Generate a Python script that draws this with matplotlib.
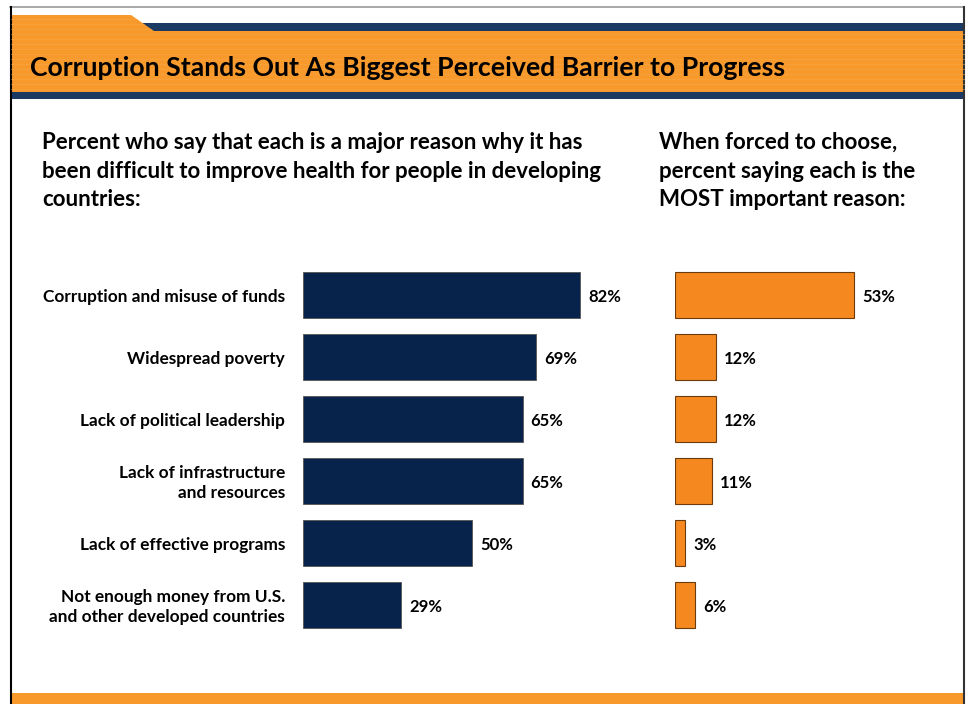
import matplotlib
matplotlib.use("Agg")
import matplotlib.pyplot as plt
from matplotlib.patches import Polygon, Rectangle

# Survey results (percent)
reasons = [
    "Corruption and misuse of funds",
    "Widespread poverty",
    "Lack of political leadership",
    "Lack of infrastructure\nand resources",
    "Lack of effective programs",
    "Not enough money from U.S.\nand other developed countries",
]
major_reason = [82, 69, 65, 65, 50, 29]
most_important = [53, 12, 12, 11, 3, 6]

title = "Corruption Stands Out As Biggest Perceived Barrier to Progress"
left_heading = ("Percent who say that each is a major reason why it has\n"
                "been difficult to improve health for people in developing\n"
                "countries:")
right_heading = "When forced to choose,\npercent saying each is the\nMOST important reason:"

NAVY = "#08234b"
ORANGE_BAR = "#f5891f"
ORANGE_HEAD = "#f7992b"
NAVY_HEAD = "#1a3a64"

W, H = 969, 704
PX_PER_PCT = 3.378

plt.rcParams["font.family"] = ["Lato", "DejaVu Sans"]
plt.rcParams["font.weight"] = "bold"

fig = plt.figure(figsize=(W / 100, H / 100), dpi=100)

# background layer in pixel coordinates
bg = fig.add_axes([0, 0, 1, 1])
bg.set_xlim(0, W)
bg.set_ylim(H, 0)
bg.axis("off")

# frame
bg.plot([10, 964], [7, 7], color="#999999", lw=1.2)
bg.plot([11, 11], [7, H], color="black", lw=1.5)
bg.plot([964, 964], [7, H], color="#333333", lw=1.5)

# header band with tab
bg.add_patch(Rectangle((140, 23), 824, 8, color=NAVY_HEAD, lw=0))
bg.add_patch(Polygon([(11, 15), (131, 15), (154, 31), (964, 31), (964, 92), (11, 92)],
                     closed=True, color=ORANGE_HEAD, lw=0))
for yy in range(19, 92, 5):
    x_end = 964 if yy >= 31 else 131 + (yy - 15) * 23 / 16
    bg.plot([11, x_end], [yy, yy], color="#f8a443", lw=0.4)
bg.add_patch(Rectangle((11, 92), 953, 7, color=NAVY_HEAD, lw=0))
bg.add_patch(Rectangle((11, 693), 953, 11, color=ORANGE_HEAD, lw=0))

bg.text(30, 68, title, fontsize=19.2, fontweight="bold", color="black",
        va="center", ha="left")

bg.text(42, 132, left_heading, fontsize=16, va="top", ha="left", linespacing=1.45)
bg.text(659, 132, right_heading, fontsize=16, va="top", ha="left", linespacing=1.45)


def px_axes(left, top, width, height):
    return fig.add_axes([left / W, 1 - (top + height) / H, width / W, height / H])


n = len(reasons)
top_px, row_px = 264, 62
ax1 = px_axes(303, top_px, 100 * PX_PER_PCT, n * row_px)
ax2 = px_axes(675, top_px, 80 * PX_PER_PCT, n * row_px)
ax1.set_xlim(0, 100)
ax2.set_xlim(0, 80)

pos = list(range(n))
ax1.barh(pos, major_reason, height=0.75, color=NAVY, edgecolor="#555555", lw=0.6)
ax2.barh(pos, most_important, height=0.75, color=ORANGE_BAR, edgecolor="#6b3a0e", lw=0.8)

for ax, vals in ((ax1, major_reason), (ax2, most_important)):
    ax.set_ylim(n - 0.5, -0.5)
    ax.axis("off")
    for i, v in enumerate(vals):
        ax.text(v + 2.4, i + 0.03, f"{v}%", fontsize=12, va="center", ha="left")

for i, r in enumerate(reasons):
    ax1.text(-5.3, i + 0.03, r, fontsize=12.4, va="center", ha="right", linespacing=1.3)

fig.savefig("out.png", dpi=100)
